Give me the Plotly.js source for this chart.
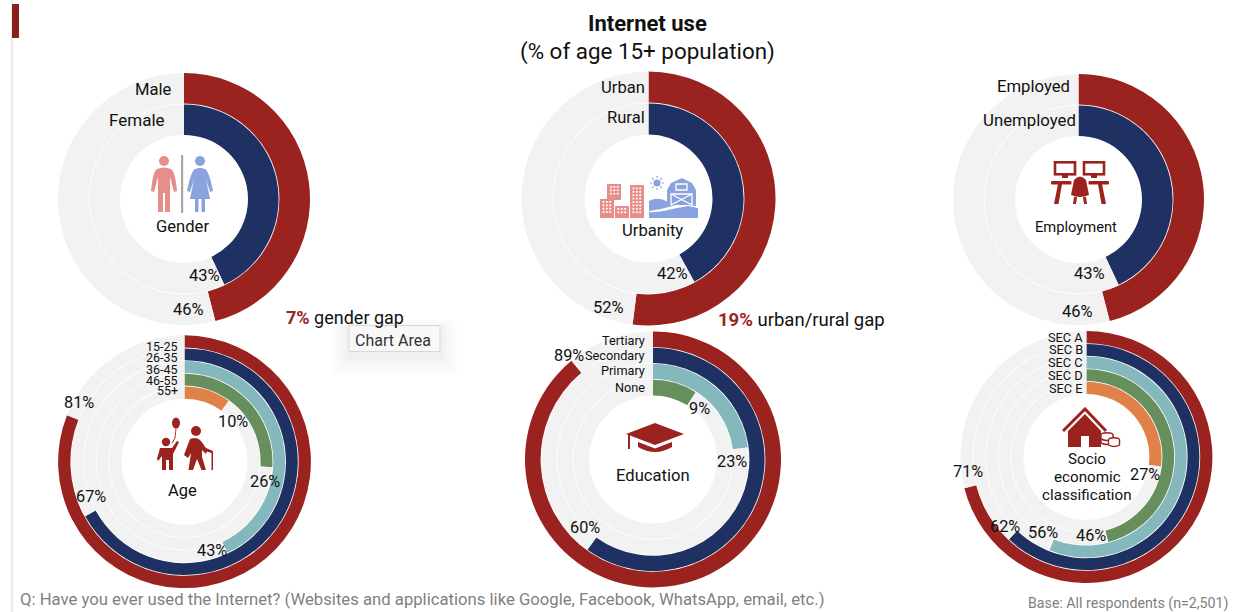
<!DOCTYPE html>
<html><head><meta charset="utf-8">
<script src="https://cdn.plot.ly/plotly-3.0.1.min.js"></script>
<style>html,body{margin:0;padding:0;background:#fff}#c{width:1248px;height:612px}</style>
</head><body><div id="c"></div>
<script>
// ---- data ----
const genderCategories = ['Male','Female'];
const genderValues = [46,43];
const urbanityCategories = ['Urban','Rural'];
const urbanityValues = [52,42];
const employmentCategories = ['Employed','Unemployed'];
const employmentValues = [46,43];
const ageCategories = ['15-25','26-35','36-45','46-55','55+'];
const ageValues = [81,67,43,26,10];
const educationCategories = ['Tertiary','Secondary','Primary','None'];
const educationValues = [89,60,23,9];
const secCategories = ['SEC A','SEC B','SEC C','SEC D','SEC E'];
const secValues = [71,62,56,46,27];
const gapLabels = ['7%','19%'];
const titleLines = ['Internet use','(% of age 15+ population)'];
const footerQuestion = 'Q: Have you ever used the Internet? (Websites and applications like Google, Facebook, WhatsApp, email, etc.)';
const footerBase = 'Base: All respondents (n=2,501)';

// ---- style ----
const W=1248,H=612;
const ringColors=['#9a231f','#1f3163','#84b8bc','#678f5d','#e0814a'];
const GREY='#f2f2f2', RED='#9a231f', PINK='#e78e8a', BLUE='#8aa3de', INK='#111111';
const FONT='Roboto, sans-serif';
const px=x=>x/W, py=y=>1-y/H;

const traces=[];
function panel(values,cx,cy,R,r0){
  const n=values.length, w=(R-r0)/n;
  values.forEach((v,i)=>{
    const outer=R-i*w-(i?0.4:0), inner=R-(i+1)*w+(i<n-1?0.4:0);
    traces.push({type:'pie',values:[v,100-v],sort:false,direction:'clockwise',rotation:0,
      hole:inner/outer,textinfo:'none',hoverinfo:'skip',showlegend:false,
      marker:{colors:[ringColors[i],GREY],line:{width:0}},
      domain:{x:[px(cx-outer),px(cx+outer)],y:[py(cy+outer),py(cy-outer)]}});
  });
}
panel(genderValues,184,199,126,64);
panel(urbanityValues,648.5,198.5,127,64);
panel(employmentValues,1078.5,199.5,125.5,63.5);
panel(ageValues,184.5,461.7,126.4,63);
panel(educationValues,653,459.4,128,64);
panel(secValues,1086.4,457,126,63);

const ann=[];
function T(text,x,y,size,anchor,color){
  ann.push({text,x:px(x),y:py(y),xref:'paper',yref:'paper',showarrow:false,xanchor:anchor||'center',yanchor:'middle',
    borderpad:0,font:{family:FONT,size:size||16,color:color||INK}});
}
T('<b>'+titleLines[0]+'</b>',647,24,22);
T(titleLines[1],647,51,22.4);

T(genderCategories[0],173,89,16.6,'right');T(genderCategories[1],166,120,17,'right');
T(genderValues[1]+'%',204,276,16.5);T(genderValues[0]+'%',188.5,309,16.5);T('Gender',182,226,16.6);
const red=s=>'<span style="color:'+RED+'"><b>'+s+'</b></span>';
T(red(gapLabels[0])+' gender gap',284.5,317,18,'left');
T(urbanityCategories[0],646,88,16.6,'right');T(urbanityCategories[1],646,118,16.6,'right');
T(urbanityValues[1]+'%',672.5,273,16.5);T(urbanityValues[0]+'%',608,307,16.5);T('Urbanity',652.5,230,16.6);
T(red(gapLabels[1])+' urban/rural gap',717,320,18.5,'left');
T(employmentCategories[0],1071,87,16.7,'right');T(employmentCategories[1],1077,120,16.8,'right');
T(employmentValues[1]+'%',1089.5,273,16.5);T(employmentValues[0]+'%',1077.5,311,16.5);T('Employment',1076,227,14.7);

[346,357,369,380,391].forEach((y,i)=>T(ageCategories[i],179,y,12.5,'right'));
[[79,402],[91,496],[212,550],[265,481],[233,421]].forEach((p,i)=>T(ageValues[i]+'%',p[0],p[1],16.3));
T('Age',182,490,16.5);

[340,355,370,387].forEach((y,i)=>T(educationCategories[i],646,y,12.7,'right'));
[[569,355],[585,527],[731.5,461],[699.5,408]].forEach((p,i)=>T(educationValues[i]+'%',p[0],p[1],16.3));
T('Education',653,475,16.6);

[337,349,362,375,388].forEach((y,i)=>T(secCategories[i],1084,y,12.8,'right'));
[[968,471],[1005,526],[1042.5,532],[1091,535],[1144.5,474]].forEach((p,i)=>T(secValues[i]+'%',p[0],p[1],16.3));
T('Socio',1087,459,15.2);T('economic',1087,477,15.2);T('classification',1087,495,15.2);

T(footerQuestion,18.5,599,16.7,'left','#7f7f7f');
T(footerBase,1228.5,603,14.2,'right','#7f7f7f');
T('Chart Area',393,340,16,'center','#333333');

// ---- frame + tooltip ----
const rect=(x0,y0,x1,y1,fill,line,op)=>({type:'rect',xref:'paper',yref:'paper',layer:'above',
  x0:px(x0),x1:px(x1),y0:py(y0),y1:py(y1),fillcolor:fill,opacity:op==null?1:op,line:line?{color:line,width:1}:{width:0}});
const shapes=[rect(11.5,0,12.5,H,'#d9d9d9'),rect(12,4,19,38,'#8c1f1c')];
[18,15,12,9,7,5,3,1.5].forEach(s=>shapes.push(rect(349-s,325-s*0.6+5,440+s,352+s+5,'#000000',null,0.008)));
shapes.push(rect(349,325.5,440,351.5,'#f8f8f8','#d8d8d8'));

// ---- pictograms ----
function icon(x,y,w,h,inner){
  const svg='<svg xmlns="http://www.w3.org/2000/svg" width="'+w*2+'" height="'+h*2+'" viewBox="0 0 '+w+' '+h+'">'+inner+'</svg>';
  return {source:'data:image/svg+xml;charset=utf-8,'+encodeURIComponent(svg),xref:'paper',yref:'paper',
    x:px(x),y:py(y),sizex:w/W,sizey:h/H,sizing:'stretch',xanchor:'left',yanchor:'top',layer:'above'};
}
function windows(x,y,cols,rows){let s='';for(let a=0;a<cols;a++)for(let b=0;b<rows;b++)s+='<rect x="'+(x+a*3.4)+'" y="'+(y+b*3.4)+'" width="1.8" height="1.8" fill="#fff"/>';return s;}
const images=[
 icon(150,155,64,58,
  '<circle cx="14" cy="6" r="5" fill="'+PINK+'"/><path fill="'+PINK+'" d="M7 14Q14 11 21 14Q25 16 27 36L24 37L20 22L20 57L15 57L15 38L13 38L13 57L8 57L8 22L4 37L1 36Q3 16 7 14Z"/>'+
  '<rect x="31" y="0" width="2.2" height="58" fill="#a8a8a8"/>'+
  '<circle cx="50" cy="6" r="5" fill="'+BLUE+'"/><path fill="'+BLUE+'" d="M45 14Q50 12 55 14Q59 16 63 36L60 37L56 24L60 44L55 44L55 57L51.5 57L51.5 44L48.5 44L48.5 57L45 57L45 44L40 44L44 24L40 37L37 36Q41 16 45 14Z"/>'),
 icon(600,175,99,44,
  '<rect x="7" y="9" width="14" height="16" fill="'+PINK+'"/>'+windows(10,11,3,3)+
  '<rect x="0" y="24" width="14" height="19" fill="'+PINK+'"/>'+windows(2.5,26,3,4)+
  '<rect x="15" y="31" width="14" height="12" fill="'+PINK+'"/>'+windows(17.5,33,3,2)+
  '<rect x="30" y="10" width="14" height="33" fill="'+PINK+'"/>'+windows(32.5,12.5,3,8)+
  '<circle cx="57" cy="8" r="3.6" fill="'+BLUE+'"/><path stroke="'+BLUE+'" stroke-width="1.1" d="M57 1V3M57 13V15M50 8H52M62 8H64M52 3L53.5 4.5M60.5 11.5L62 13M62 3L60.5 4.5M53.5 11.5L52 13"/>'+
  '<path fill="'+BLUE+'" d="M49 43V26Q58 21 68 27L76 30L88 30L98 33V43Z"/>'+
  '<path fill="#fff" d="M49 36Q60 35 72 31L90 27L98 31L98 33L88 31L72 34Q60 38 49 37Z"/>'+
  '<path fill="'+BLUE+'" d="M67 30V15L71 8L82 3L92 8L96 15V31L88 30Z"/>'+
  '<path fill="none" stroke="#fff" stroke-width="1.3" d="M71 30V19H92V30M71 19L92 30M92 19L71 30M76 9H87V15H76Z"/>'),
 icon(1051,160,58,45,
  '<g fill="none" stroke="'+RED+'" stroke-width="2.6"><rect x="4" y="2.3" width="20" height="12"/><rect x="33" y="2.3" width="20" height="12"/></g>'+
  '<g fill="'+RED+'"><rect x="11" y="15" width="6" height="3"/><rect x="40" y="15" width="6" height="3"/>'+
  '<rect x="0" y="21" width="20.5" height="3.6" rx="1"/><rect x="37.5" y="21" width="20.5" height="3.6" rx="1"/>'+
  '<path d="M7 24L11 24L7.5 44L3 44ZM47 24L51 24L55 44L50.5 44Z"/>'+
  '<path d="M23 20Q29 13 35 20L38 35Q29 39 20 35Z"/><path d="M23 37L26 37L25 44L22 44ZM32 37L35 37L36 44L33 44Z"/></g>'),
 icon(157,417,56,54,
  '<g fill="'+RED+'"><ellipse cx="19" cy="6" rx="4" ry="5.5"/><circle cx="9" cy="25" r="4.2"/>'+
  '<path d="M3 31H15L20 24L22 25L16 37V53H12V43H9V53H5V39L1 44L0 42Z"/>'+
  '<circle cx="39" cy="14" r="5"/><path d="M33 22Q40 19 44 24L49 31L56 34V53H54.5V36L50 34.5L49 37L45 33V40L49 53H44.5L40 42L36 53H31.5L34 36L31 41L27 38Z"/></g>'+
  '<path fill="none" stroke="'+RED+'" stroke-width="0.9" d="M19 11.5L18 21L15 26"/>'),
 icon(625,423,60,30,
  '<g fill="'+RED+'"><path d="M30 0L59 11L30 22L1 11Z"/><path d="M13 19L30 25.5L47 19V24Q30 34 13 24Z"/><rect x="3" y="12" width="2" height="14"/></g>'),
 icon(1062,407,59,41,
  '<path fill="none" stroke="'+RED+'" stroke-width="3" d="M1 24L23 2L44 24"/>'+
  '<path fill="'+RED+'" d="M6 24L23 7L39 24V40H27V29H19V40H6Z"/>'+
  '<g fill="#fff" stroke="'+RED+'" stroke-width="1.4"><ellipse cx="45" cy="28" rx="6" ry="2.2"/><path d="M39 28V36Q45 39 51 36V28"/><path d="M39 32Q45 35 51 32" fill="none"/><ellipse cx="52" cy="33" rx="5.5" ry="2.2"/><path d="M46.5 33V38Q52 41 57.5 38V33"/></g>')
];

Plotly.newPlot('c',traces,{width:W,height:H,margin:{l:0,r:0,t:0,b:0},paper_bgcolor:'#fff',plot_bgcolor:'#fff',
  font:{family:FONT},annotations:ann,shapes,images},{staticPlot:true,displayModeBar:false});
</script></body></html>
